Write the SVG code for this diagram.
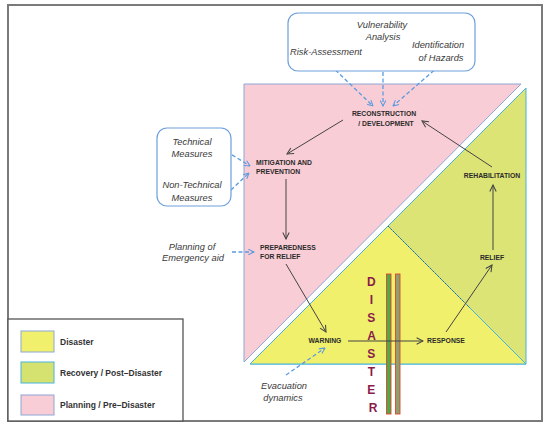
<svg xmlns="http://www.w3.org/2000/svg" width="550" height="428" viewBox="0 0 550 428">
<defs>
<style>
.lbl{font-family:"Liberation Sans",Arial,sans-serif;font-weight:bold;font-size:6.8px;fill:#2b2b2b}
.it{font-family:"Liberation Sans",Arial,sans-serif;font-style:italic;font-size:9.3px;fill:#3a3a3a}
.leg{font-family:"Liberation Sans",Arial,sans-serif;font-weight:bold;font-size:8.5px;fill:#333}
.dis{font-family:"Liberation Sans",Arial,sans-serif;font-weight:bold;font-size:12px;fill:#8a1c4c}
.box{fill:#fff;stroke:#6d9fdc;stroke-width:1.2}
.arr{fill:none;stroke:#444;stroke-width:1;marker-end:url(#ah)}
.dash{fill:none;stroke:#5b9be0;stroke-width:1.3;stroke-dasharray:4 2.5;marker-end:url(#bh)}
</style>
<marker id="ah" viewBox="0 0 10 10" refX="9" refY="5" markerWidth="8" markerHeight="8" markerUnits="userSpaceOnUse" orient="auto">
<path d="M1,1 L9,5 L1,9" fill="none" stroke="#444" stroke-width="1.3"/>
</marker>
<marker id="bh" viewBox="0 0 10 10" refX="9" refY="5" markerWidth="7" markerHeight="7" markerUnits="userSpaceOnUse" orient="auto">
<path d="M1,1 L9,5 L1,9" fill="none" stroke="#5b9be0" stroke-width="1.5"/>
</marker>
</defs>
<rect x="0" y="0" width="550" height="428" fill="#fff"/>
<rect x="8" y="5" width="534" height="416" fill="none" stroke="#7a7a7a" stroke-width="2"/>

<g id="regions">
<polygon points="244,84 521,84 244,362" fill="#f9cdd5" stroke="#8ea6d6" stroke-width="1"/>
<polygon points="526,88 526,364 250,364" fill="#dbe475" stroke="#46b4dc" stroke-width="1"/>
<polygon points="250,364 388,226 526,364" fill="#f0f06c" stroke="#46b4dc" stroke-width="1"/>
<line x1="388" y1="226" x2="470" y2="308" stroke="#2d4a6a" stroke-width="0.8" stroke-dasharray="2 1.5"/>
</g>

<g id="disaster">
<rect x="386.5" y="274" width="4.5" height="140" fill="#4caa48" stroke="#e0452c" stroke-width="0.9"/>
<rect x="395.5" y="274" width="4.5" height="140" fill="#8fa070" stroke="#e0452c" stroke-width="0.9"/>
<text class="dis" text-anchor="middle">
<tspan x="373" y="285.5">D</tspan>
<tspan x="373" y="304">I</tspan>
<tspan x="373" y="322">S</tspan>
<tspan x="373" y="340">A</tspan>
<tspan x="373" y="357.5">S</tspan>
<tspan x="373" y="376">T</tspan>
<tspan x="373" y="393.5">E</tspan>
<tspan x="373" y="411.5">R</tspan>
</text>
</g>

<g id="connectors">
<line class="arr" x1="343" y1="120" x2="287" y2="154"/>
<line class="arr" x1="492" y1="167" x2="422" y2="121"/>
<line class="arr" x1="286" y1="179" x2="286" y2="239"/>
<line class="arr" x1="286" y1="264" x2="326" y2="332"/>
<line class="arr" x1="348" y1="341" x2="423" y2="341"/>
<line class="arr" x1="446" y1="332" x2="492" y2="265"/>
<line class="arr" x1="493" y1="250" x2="493" y2="185"/>
<line class="dash" x1="326" y1="61" x2="373" y2="106"/>
<line class="dash" x1="383" y1="46" x2="383" y2="106"/>
<line class="dash" x1="439" y1="66" x2="393" y2="106"/>
<line class="dash" x1="221" y1="148" x2="250" y2="166"/>
<line class="dash" x1="231" y1="190" x2="249" y2="173"/>
<line class="dash" x1="232" y1="252" x2="254" y2="252"/>
<line class="dash" x1="286" y1="375" x2="325" y2="348"/>
</g>

<g id="assessment">
<rect class="box" x="288" y="13" width="187" height="58" rx="10"/>
<text class="it" x="382" y="28" text-anchor="middle">Vulnerability</text>
<text class="it" x="383" y="40" text-anchor="middle">Analysis</text>
<text class="it" x="326" y="55" text-anchor="middle">Risk-Assessment</text>
<text class="it" x="438" y="48" text-anchor="middle">Identification</text>
<text class="it" x="441" y="61" text-anchor="middle">of Hazards</text>
</g>

<g id="measures">
<rect class="box" x="157" y="128" width="74" height="78" rx="10"/>
<text class="it" x="192" y="144.5" text-anchor="middle">Technical</text>
<text class="it" x="192" y="157" text-anchor="middle">Measures</text>
<text class="it" x="192" y="187.5" text-anchor="middle">Non-Technical</text>
<text class="it" x="192" y="200.5" text-anchor="middle">Measures</text>
</g>

<g id="planning">
<text class="it" x="192" y="249.5" text-anchor="middle">Planning of</text>
<text class="it" x="193" y="260.5" text-anchor="middle">Emergency aid</text>
</g>

<g id="evacuation">
<text class="it" x="284" y="388.5" text-anchor="middle">Evacuation</text>
<text class="it" x="283" y="400.5" text-anchor="middle">dynamics</text>
</g>

<g id="reconstruction">
<text class="lbl" x="384" y="116" text-anchor="middle">RECONSTRUCTION</text>
<text class="lbl" x="386" y="126" text-anchor="middle">/ DEVELOPMENT</text>
</g>
<g id="mitigation">
<text class="lbl" x="256" y="164.5">MITIGATION AND</text>
<text class="lbl" x="256" y="174">PREVENTION</text>
</g>
<g id="preparedness">
<text class="lbl" x="260" y="249.5">PREPAREDNESS</text>
<text class="lbl" x="260" y="258.5">FOR RELIEF</text>
</g>
<g id="warning"><text class="lbl" x="325" y="342.5" text-anchor="middle">WARNING</text></g>
<g id="response"><text class="lbl" x="446" y="342.5" text-anchor="middle">RESPONSE</text></g>
<g id="relief"><text class="lbl" x="492" y="259.5" text-anchor="middle">RELIEF</text></g>
<g id="rehabilitation"><text class="lbl" x="492" y="177.5" text-anchor="middle">REHABILITATION</text></g>

<g id="legend">
<rect x="8" y="319" width="175" height="102" fill="#fff" stroke="#555" stroke-width="1.3"/>
<rect x="21" y="331" width="33" height="21" fill="#f0f06c" stroke="#8ea6d6" stroke-width="1"/>
<rect x="21" y="362" width="33" height="21" fill="#d6e270" stroke="#46b4dc" stroke-width="1"/>
<rect x="21" y="395" width="33" height="20" fill="#f9cdd5" stroke="#8ea6d6" stroke-width="1"/>
<text class="leg" x="60" y="344.5">Disaster</text>
<text class="leg" x="60" y="375.5">Recovery / Post–Disaster</text>
<text class="leg" x="60" y="407.5">Planning / Pre–Disaster</text>
</g>
</svg>
